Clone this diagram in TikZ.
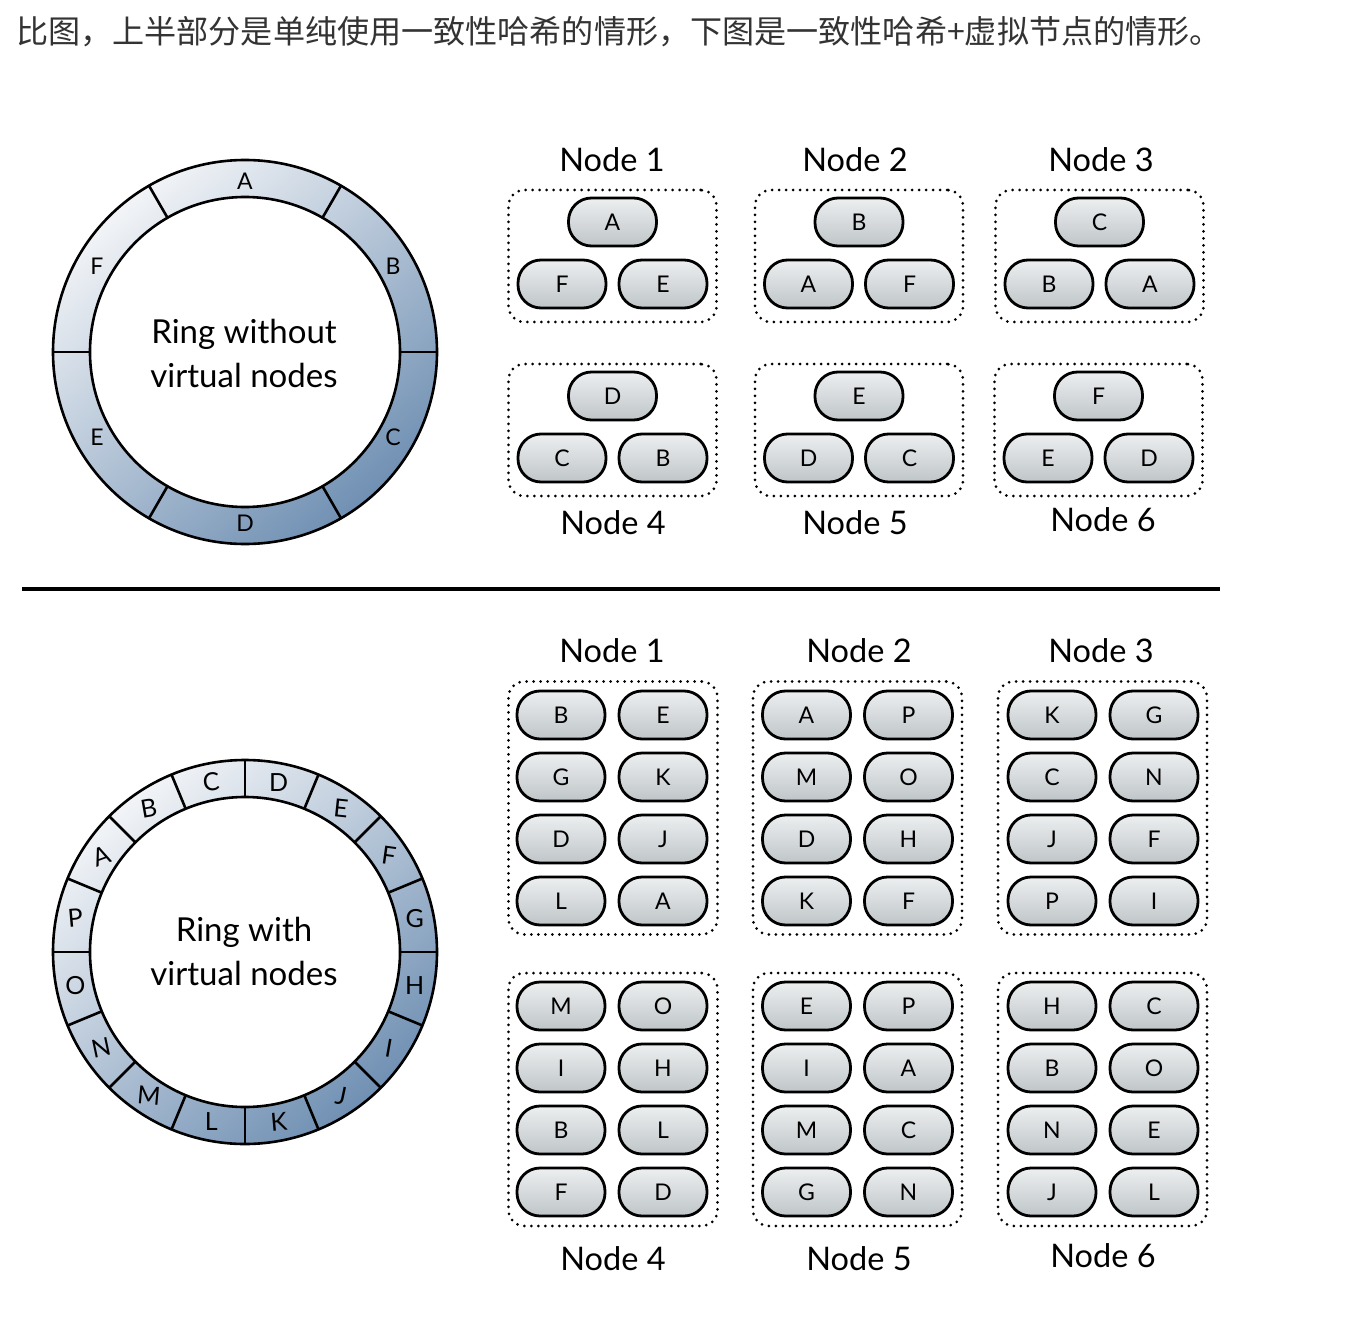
\documentclass[tikz,border=0pt]{standalone}
\usepackage{fontspec}
\usetikzlibrary{calc}
\setmainfont{Lato}
\newfontfamily\cjk{Noto Sans CJK SC}
\definecolor{hdr}{HTML}{333333}
\definecolor{ringlight}{HTML}{F2F4F7}
\definecolor{ringmid}{HTML}{D0DAE5}
\definecolor{ringdark}{HTML}{7090B3}
\definecolor{pilltop}{HTML}{EDEFF0}
\definecolor{pillbot}{HTML}{BFC5C8}
\newcommand\pillgroup[4]{%
  \foreach \i/\l/\r in {#4} {%
    \node[pill] (#1l\i) at ({#2-51},{-#3-62*\i}) {\l};
    \node[pill] (#1r\i) at ({#2+51},{-#3-62*\i}) {\r};
  }}
\begin{document}
\begin{tikzpicture}[x=1pt,y=1pt,
  pill/.style={draw=black, line width=2.8pt, rounded corners=23pt,
    minimum width=88pt, minimum height=48pt, inner sep=0pt,
    top color=pilltop, bottom color=pillbot, font=\fontsize{23}{23}\selectfont},
  dotbox/.style={draw=black, line width=3pt, line cap=round,
    dash pattern=on 0pt off 7pt, rounded corners=16pt, inner sep=0pt},
  nlabel/.style={font=\fontsize{32.5}{32}\selectfont},
  ringtext/.style={align=center, font=\fontsize{33}{44}\selectfont},
  ringline/.style={line width=2.6pt},
  ringfill/.style={even odd rule, top color=ringlight, middle color=ringmid,
    bottom color=ringdark, shading angle=40},
  rlet/.style={inner sep=0pt, font=\fontsize{23}{23}\selectfont},
  vlet/.style={inner sep=0pt, font=\fontsize{25}{25}\selectfont}]
\useasboundingbox (0,0) rectangle (1368,-1324);
\fill[white] (0,0) rectangle (1368,-1324);

% header
\node[anchor=west, text=hdr, inner sep=0pt, font=\cjk\fontsize{32.1}{36}\selectfont] (title) at (16,-32)
  {比图，上半部分是单纯使用一致性哈希的情形，下图是一致性哈希+虚拟节点的情形。};

% separator
\coordinate (sepL) at (22,-589);
\coordinate (sepR) at (1220,-589);
\draw[line width=4pt] (sepL) -- (sepR);

% ===== top ring =====
\coordinate (R1) at (245,-352);
\shade[ringfill] (R1) circle[radius=192] (R1) circle[radius=155];
\draw[ringline] (R1) circle[radius=192];
\draw[ringline] (R1) circle[radius=155];
\foreach \a in {0,60,120,180,240,300}
  \draw[ringline] ($(R1)+(\a:155)$) -- ($(R1)+(\a:192)$);
\foreach \l/\a in {A/90,B/30,C/-30,D/-90,E/210,F/150}
  \node[rlet] (r1\l) at ($(R1)+(\a:171)$) {\l};
\node[ringtext] (r1txt) at (244,-353) {Ring without\\virtual nodes};

% ===== bottom ring =====
\coordinate (R2) at (245,-952);
\shade[ringfill] (R2) circle[radius=192] (R2) circle[radius=155];
\draw[ringline] (R2) circle[radius=192];
\draw[ringline] (R2) circle[radius=155];
\foreach \k in {0,...,15}
  \draw[ringline] ($(R2)+(22.5*\k:155)$) -- ($(R2)+(22.5*\k:192)$);
\foreach \ltr/\ang/\rot in {C/101.25/5,B/123.75/10,A/146.25/20,P/168.75/5,O/191.25/0,
  N/213.75/12,M/236.25/-5,L/258.75/0,K/281.25/5,J/303.75/-12,I/326.25/-10,
  H/348.75/0,G/11.25/0,F/33.75/-8,E/56.25/-6,D/78.75/0}
  \node[vlet] (r2\ltr) at ($(R2)+(\ang:173)$) {\rotatebox{\rot}{\ltr}};
\node[ringtext] (r2txt) at (244,-951) {Ring with\\virtual nodes};

% ===== top node boxes =====
\foreach \n/\cx/\cy/\a/\b/\c in {1/612.5/222/A/F/E, 2/859/222/B/A/F, 3/1099.5/222/C/B/A,
  4/612.5/396/D/C/B, 5/859/396/E/D/C, 6/1098.5/396/F/E/D} {
  \node[dotbox, minimum width=208pt, minimum height=132pt] (tb\n) at (\cx,{-\cy-34}) {};
  \node[pill] (tp\n a) at (\cx,-\cy) {\a};
  \node[pill] (tp\n b) at ({\cx-50.5},{-\cy-62}) {\b};
  \node[pill] (tp\n c) at ({\cx+50.5},{-\cy-62}) {\c};
}
\node[nlabel] (tn1) at (612,-160) {Node 1};
\node[nlabel] (tn2) at (855,-160) {Node 2};
\node[nlabel] (tn3) at (1101,-160) {Node 3};
\node[nlabel] (tn4) at (613,-523) {Node 4};
\node[nlabel] (tn5) at (855,-523) {Node 5};
\node[nlabel] (tn6) at (1103,-520) {Node 6};

% ===== bottom node boxes =====
\foreach \n/\cx/\cy in {1/613/808, 2/857.5/808, 3/1102.5/808,
  4/613/1099.5, 5/857.5/1099.5, 6/1102.5/1099.5}
  \node[dotbox, minimum width=209pt, minimum height=253pt] (bb\n) at (\cx,-\cy) {};
\pillgroup{b1}{612}{715}{0/B/E,1/G/K,2/D/J,3/L/A}
\pillgroup{b2}{857.5}{715}{0/A/P,1/M/O,2/D/H,3/K/F}
\pillgroup{b3}{1103}{715}{0/K/G,1/C/N,2/J/F,3/P/I}
\pillgroup{b4}{612}{1006}{0/M/O,1/I/H,2/B/L,3/F/D}
\pillgroup{b5}{857.5}{1006}{0/E/P,1/I/A,2/M/C,3/G/N}
\pillgroup{b6}{1103}{1006}{0/H/C,1/B/O,2/N/E,3/J/L}
\node[nlabel] (bn1) at (612,-651) {Node 1};
\node[nlabel] (bn2) at (859,-651) {Node 2};
\node[nlabel] (bn3) at (1101,-651) {Node 3};
\node[nlabel] (bn4) at (613,-1259) {Node 4};
\node[nlabel] (bn5) at (859,-1259) {Node 5};
\node[nlabel] (bn6) at (1103,-1256) {Node 6};
\end{tikzpicture}
\end{document}
